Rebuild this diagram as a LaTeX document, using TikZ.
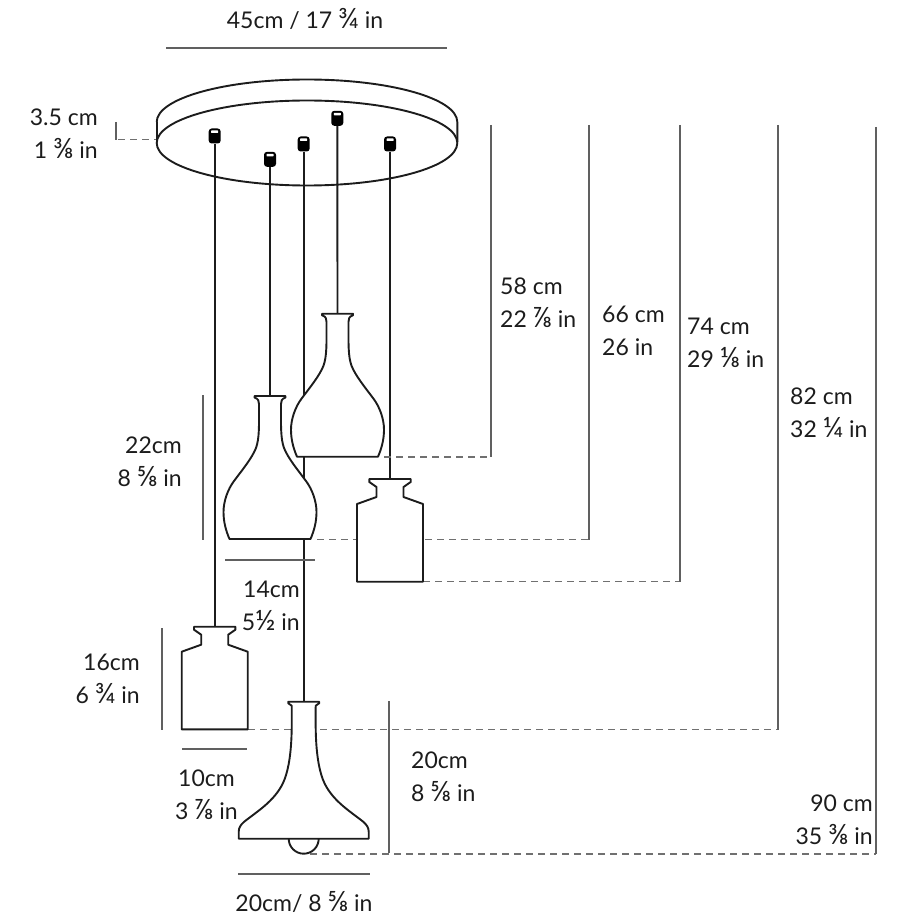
\documentclass[tikz,border=0pt]{standalone}
\usepackage{fontspec}
\usepackage{tikz}
\setmainfont{Lato}
\usetikzlibrary{calc}
\definecolor{inkdark}{HTML}{1C1C1C}
\definecolor{dimgrey}{HTML}{606060}
\definecolor{dashgrey}{HTML}{707070}
\newcommand{\frc}[1]{{\fontsize{28}{33}\selectfont #1}}
\tikzset{
    lampline/.style={draw=inkdark, line width=1.9pt, fill=white, line join=round},
    rodline/.style={draw=inkdark, line width=1.9pt},
    dimline/.style={draw=dimgrey, line width=1.1pt},
    leaderline/.style={draw=dashgrey, line width=1.1pt, dash pattern=on 7pt off 5pt},
    capbox/.style={fill=black, rounded corners=3pt, minimum width=12pt, minimum height=15pt, inner sep=0pt},
    dimtext/.style={text=inkdark, inner sep=0pt, font=\fontsize{23}{33}\selectfont},
    pics/flask/.style={code={
        \path[lampline] (-15.5,0) -- (15.5,0) -- (15.5,1.5) .. controls (11.5,3) and (11,5) .. (11,8)
            .. controls (11,30) and (10.5,42) .. (14,52) .. controls (18,62) and (27,73) .. (36,85)
            .. controls (42,93) and (46.5,105) .. (46.5,116) .. controls (46.5,126) and (44,135) .. (40.5,143)
            -- (-40.5,143) .. controls (-44,135) and (-46.5,126) .. (-46.5,116)
            .. controls (-46.5,105) and (-42,93) .. (-36,85) .. controls (-27,73) and (-18,62) .. (-14,52)
            .. controls (-10.5,42) and (-11,30) .. (-11,8) .. controls (-11,5) and (-11.5,3) .. (-15.5,1.5) -- cycle;
    }},
    pics/bottle/.style={code={
        \path[lampline] (-20.7,0) -- (20.7,0) -- (20.7,3) -- (13.5,8) -- (13.5,18) -- (33,25) -- (33,102.7)
            -- (-33,102.7) -- (-33,25) -- (-13.5,18) -- (-13.5,8) -- (-20.7,3) -- cycle;
    }},
    pics/bell/.style={code={
        \path[lampline] (-15,137) arc[start angle=180, end angle=360, radius=15pt];
        \path[lampline] (-15.5,0) -- (15.5,0) -- (15.5,1.5) -- (12,4) .. controls (12,22) and (10.5,60) .. (21,82)
            .. controls (30,100) and (47,110) .. (59.5,120) .. controls (63,123) and (65,126) .. (65,130)
            -- (65,137) -- (-65,137) -- (-65,130) .. controls (-65,126) and (-63,123) .. (-59.5,120)
            .. controls (-47,110) and (-30,100) .. (-21,82) .. controls (-10.5,60) and (-12,22) .. (-12,4)
            -- (-15.5,1.5) -- cycle;
    }},
}
\begin{document}
\begin{tikzpicture}[x=1pt, y=-1pt]
    \useasboundingbox (0,0) rectangle (920,920);
    % Canopy
    \draw[rodline] (156.7,122) arc[start angle=180, end angle=0, x radius=150.3pt, y radius=42.5pt] -- (457.3,142);
    \draw[rodline] (156.7,122) -- (156.7,142);
    \draw[rodline] (307,143) ellipse[x radius=150.3pt, y radius=42.5pt];
    % Lamp tops
    \coordinate (flaska) at (337.5,313.7);
    \coordinate (flaskb) at (270,396);
    \coordinate (bottlec) at (390,479);
    \coordinate (bottled) at (214.7,626.7);
    \coordinate (bellrim) at (303.7,701.7);
    % Caps and rods
    \foreach \capname/\x/\y/\lampname in {capa/337.3/118.3/flaska, capb/270/159.3/flaskb, capc/390/144/bottlec, capd/214.7/136/bottled, cape/303.7/144/bellrim} {
        \node[capbox] (\capname) at (\x,\y) {};
        \fill[white, rounded corners=0.5pt] ($(\capname.center)+(-3.5,-5.5)$) rectangle ($(\capname.center)+(3.5,-3)$);
        \draw[rodline] (\capname.south) -- (\lampname);
    }
    % Leaders
    \foreach \xa/\xb/\y in {384/491/457, 317/589/539.5, 423/680/581.7, 248/778/729.5, 310/876/854} {
        \draw[leaderline] (\xa,\y) -- (\xb,\y);
    }
    \draw[leaderline] (118,139.3) -- (156,139.3);
    % Lamps
    \pic at (flaska) {flask};
    \pic at (flaskb) {flask};
    \pic at (bottlec) {bottle};
    \pic at (bottled) {bottle};
    \pic at (bellrim) {bell};
    % Dimension lines
    \foreach \x/\ya/\yb in {491/125/457, 589/125/539.5, 680/125/582, 778/125/729.5, 876/127/854, 116/122/140, 203/395/540, 162/628/730, 389/701/853} {
        \draw[dimline] (\x,\ya) -- (\x,\yb);
    }
    \foreach \y/\xa/\xb in {48/166/447, 560/225/315, 749/182/247, 874/238/370} {
        \draw[dimline] (\xa,\y) -- (\xb,\y);
    }
    % Labels
    \node[dimtext] (topwidth) at (305,19) {45cm / 17 \frc{¾} in};
    \node[dimtext, align=right, anchor=east] (canopyh) at (98,133.5) {3.5 cm\\1 \frc{⅜} in};
    \node[dimtext, align=left, anchor=west] (dropa) at (500,302.5) {58 cm\\22 \frc{⅞} in};
    \node[dimtext, align=left, anchor=west] (dropb) at (602,331) {66 cm\\26 in};
    \node[dimtext, align=left, anchor=west] (dropc) at (687,342.5) {74 cm\\29 \frc{⅛} in};
    \node[dimtext, align=left, anchor=west] (dropd) at (790,413) {82 cm\\32 \frc{¼} in};
    \node[dimtext, align=right, anchor=east] (drope) at (873,820) {90 cm\\35 \frc{⅜} in};
    \node[dimtext, align=right, anchor=east] (flaskh) at (182,462) {22cm\\8 \frc{⅝} in};
    \node[dimtext, align=right, anchor=east] (flaskw) at (300,605.5) {14cm\\5\frc{½} in};
    \node[dimtext, align=right, anchor=east] (bottleh) at (140,678.5) {16cm\\6 \frc{¾} in};
    \node[dimtext, align=center] (bottlew) at (206.5,795) {10cm\\3 \frc{⅞} in};
    \node[dimtext, align=left, anchor=west] (bellh) at (411,776.5) {20cm\\8 \frc{⅝} in};
    \node[dimtext] (bellw) at (304,902) {20cm/ 8 \frc{⅝} in};
\end{tikzpicture}
\end{document}
